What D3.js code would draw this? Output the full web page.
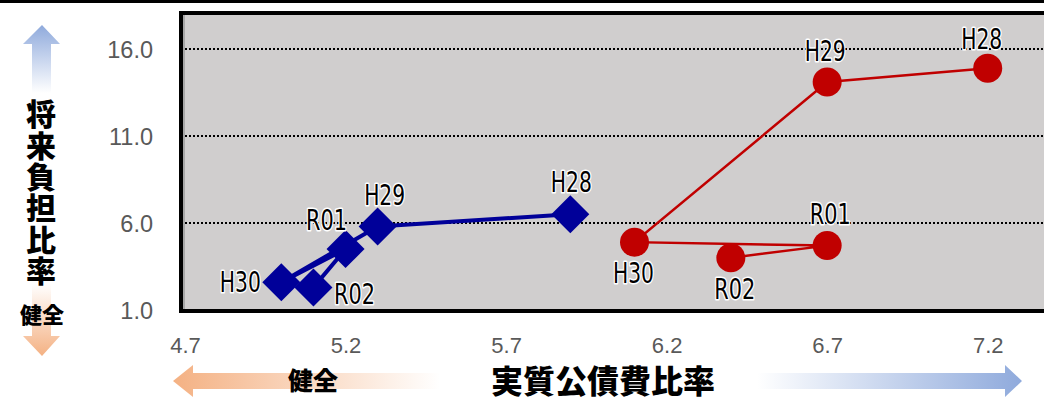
<!DOCTYPE html>
<html><head><meta charset="utf-8">
<script src="https://cdn.jsdelivr.net/npm/d3@7"></script>
<style>html,body{margin:0;padding:0;background:#fff;}svg{display:block;}</style>
</head><body>
<svg id="c" width="1044" height="401"></svg>
<script>
// ---- data ----
const years = ["H28", "H29", "H30", "R01", "R02"];
const seriesA_x = [5.9, 5.3, 5.0, 5.2, 5.1];   // 実質公債費比率 (blue)
const seriesA_y = [6.5, 5.8, 2.6, 4.5, 2.3];   // 将来負担比率 (blue)
const seriesB_x = [7.2, 6.7, 6.1, 6.7, 6.4];   // 実質公債費比率 (red)
const seriesB_y = [14.9, 14.1, 4.9, 4.7, 4.0]; // 将来負担比率 (red)
const xTicks = [4.7, 5.2, 5.7, 6.2, 6.7, 7.2];
const yTicks = [1.0, 6.0, 11.0, 16.0];
const xTitle = "実質公債費比率";
const yTitle = "将来負担比率";
const goodLabel = "健全";

// label placement (style)
const labA = {H28:[1,-22], H29:[7,-21], R01:[-19,-19], H30:[-41,10], R02:[41,17]};
const labB = {H28:[-6,-19], H29:[-2,-21], R01:[3,-22], H30:[-1,41], R02:[4,41]};

const svg = d3.select("#c");
const x = d3.scaleLinear().domain([4.7, 7.2]).range([185, 987.7]);
const y = d3.scaleLinear().domain([1, 16]).range([310, 49]);

const defs = svg.append("defs");
function grad(id, x1, y1, x2, y2, c1, c2) {
  const g = defs.append("linearGradient").attr("id", id)
    .attr("x1", x1).attr("y1", y1).attr("x2", x2).attr("y2", y2);
  g.append("stop").attr("offset", "0%").attr("stop-color", c1);
  g.append("stop").attr("offset", "100%").attr("stop-color", c2);
}
const BLUE = "#8faadc", ORANGE = "#f4b183";
grad("gUp", 0, 0, 0, 1, BLUE, "#ffffff");
grad("gDown", 0, 0, 0, 1, "#ffffff", ORANGE);
grad("gLeft", 0, 0, 1, 0, ORANGE, "#ffffff");
grad("gRight", 0, 0, 1, 0, "#ffffff", BLUE);

// top line
svg.append("rect").attr("x", 0).attr("y", 0).attr("width", 1044).attr("height", 3).attr("fill", "#000");

// plot area
svg.append("rect").attr("x", 181).attr("y", 13).attr("width", 900).attr("height", 298)
  .attr("fill", "#d0cece").attr("stroke", "#000").attr("stroke-width", 4);
svg.append("line").attr("x1", 184).attr("x2", 184).attr("y1", 15).attr("y2", 309)
  .attr("stroke", "#9a9a9a").attr("stroke-width", 1.5);

// gridlines
svg.append("g").selectAll("line").data(yTicks.filter(d => d > 1)).join("line")
  .attr("x1", 185).attr("x2", 1044).attr("y1", d => y(d)).attr("y2", d => y(d))
  .attr("stroke", "#000").attr("stroke-width", 2).attr("stroke-dasharray", "2,2");

// axes
const yAxis = svg.append("g").attr("transform", "translate(153,0)")
  .call(d3.axisLeft(y).tickValues(yTicks).tickFormat(d3.format(".1f")).tickSize(0).tickPadding(0));
yAxis.select(".domain").remove();
yAxis.selectAll("text").attr("font-family", "Liberation Sans, Arial, sans-serif")
  .attr("font-size", 23.5).attr("fill", "#595959").attr("dy", "0.38em");

const xAxis = svg.append("g").attr("transform", "translate(0,336)")
  .call(d3.axisBottom(x).tickValues(xTicks).tickFormat(d3.format(".1f")).tickSize(0).tickPadding(0));
xAxis.select(".domain").remove();
xAxis.selectAll("text").attr("font-family", "Liberation Sans, Arial, sans-serif")
  .attr("font-size", 22).attr("fill", "#595959").attr("dy", "0.77em");

// series
function mk(xs, ys) { return years.map((t, i) => ({t, x: xs[i], y: ys[i]})); }
const A = mk(seriesA_x, seriesA_y), B = mk(seriesB_x, seriesB_y);
const line = d3.line().x(d => x(d.x)).y(d => y(d.y));

svg.append("path").datum(B).attr("d", line).attr("fill", "none")
  .attr("stroke", "#c00000").attr("stroke-width", 2.5);
svg.append("g").selectAll("circle").data(B).join("circle")
  .attr("cx", d => x(d.x)).attr("cy", d => y(d.y)).attr("r", 14.5).attr("fill", "#c00000");

svg.append("path").datum(A).attr("d", line).attr("fill", "none")
  .attr("stroke", "#000099").attr("stroke-width", 4).attr("stroke-linejoin", "round");
const dia = d3.symbol().type(d3.symbolSquare).size(19 * 19 * 2);
svg.append("g").selectAll("path").data(A).join("path")
  .attr("d", dia).attr("fill", "#000099")
  .attr("transform", d => `translate(${x(d.x)},${y(d.y)}) rotate(45)`);

// point labels
function labels(data, off) {
  svg.append("g").selectAll("text").data(data).join("text")
    .attr("x", d => x(d.x) + off[d.t][0]).attr("y", d => y(d.y) + off[d.t][1])
    .attr("text-anchor", "middle")
    .attr("font-family", "Liberation Sans Narrow, DejaVu Sans Condensed, sans-serif")
    .attr("font-size", 29)
    .attr("textLength", 41).attr("lengthAdjust", "spacingAndGlyphs")
    .attr("fill", "#000").attr("stroke", "#fff").attr("stroke-width", 3)
    .attr("paint-order", "stroke").attr("stroke-linejoin", "round")
    .text(d => d.t);
}
labels(B, labB);
labels(A, labA);

// y-axis arrows and title
svg.append("path").attr("d", "M42,25 L60,44 L51,44 L51,93 L32,93 L32,44 L23,44 Z").attr("fill", "url(#gUp)");
svg.append("path").attr("d", "M32,284 L51,284 L51,336 L60,336 L42,356 L23,336 L32,336 Z").attr("fill", "url(#gDown)");

const cjk = "Noto Sans CJK JP, sans-serif";
svg.append("text").attr("x", 41).attr("y", 99)
  .style("writing-mode", "vertical-rl").style("text-orientation", "upright")
  .attr("letter-spacing", 1.3)
  .attr("font-family", cjk).attr("font-weight", 900)
  .attr("font-size", 30).attr("fill", "#000").text(yTitle);
svg.append("text").attr("x", 42).attr("y", 323).attr("text-anchor", "middle")
  .attr("font-family", cjk).attr("font-weight", 900).attr("font-size", 22).attr("fill", "#000").text(goodLabel);

// x-axis arrows and title
svg.append("path").attr("d", "M173,381 L193,365 L193,373 L440,373 L440,389 L193,389 L193,397 Z").attr("fill", "url(#gLeft)");
svg.append("path").attr("d", "M757,373 L1005,373 L1005,365 L1022,381 L1005,397 L1005,389 L757,389 Z").attr("fill", "url(#gRight)");
svg.append("text").attr("x", 313).attr("y", 390).attr("text-anchor", "middle")
  .attr("font-family", cjk).attr("font-weight", 900).attr("font-size", 25).attr("fill", "#000").text(goodLabel);
svg.append("text").attr("x", 603).attr("y", 393).attr("text-anchor", "middle")
  .attr("font-family", cjk).attr("font-weight", 900).attr("font-size", 32).attr("fill", "#000").text(xTitle);
</script>
</body></html>
